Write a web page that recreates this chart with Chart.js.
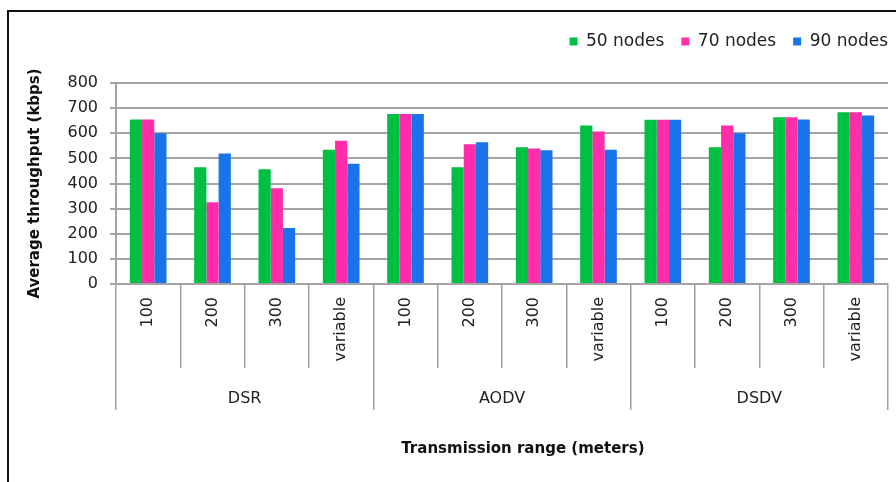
<!DOCTYPE html>
<html>
<head>
<meta charset="utf-8">
<script src="https://cdn.jsdelivr.net/npm/chart.js@4"></script>
<style>
  html, body { margin: 0; padding: 0; background: #fff; }
  #wrap { position: relative; width: 896px; height: 482px; overflow: hidden; }
  #frame { position: absolute; left: 7px; top: 10px; right: -10px; bottom: -10px; border: 2px solid #111; pointer-events: none; }
</style>
</head>
<body>
<div id="wrap">
  <canvas id="chart" width="896" height="482"></canvas>
  <div id="frame"></div>
</div>
<script>
// chart data
const ranges = ['100', '200', '300', 'variable', '100', '200', '300', 'variable', '100', '200', '300', 'variable'];
const protocols = ['DSR', 'AODV', 'DSDV'];
const nodes50 = [655, 465, 457, 534, 677, 465, 544, 631, 654, 544, 664, 684];
const nodes70 = [655, 325, 381, 570, 677, 556, 539, 607, 654, 631, 664, 684];
const nodes90 = [600, 519, 223, 479, 677, 564, 532, 534, 654, 600, 655, 671];
const yTicks = [0, 100, 200, 300, 400, 500, 600, 700, 800];

const font = 'DejaVu Sans';
const gridColor = '#a4a4a4';

// push the plot area down below the legend, and the legend flush right
const legendGap = {
  id: 'legendGap',
  beforeInit(chart) {
    const fit = chart.legend.fit;
    chart.legend.fit = function () {
      fit.bind(chart.legend)();
      this.height += 23;
    };
  },
  afterLayout(chart) {
    chart.legend.left += 17;
    chart.legend.right += 17;
  }
};

new Chart(document.getElementById('chart').getContext('2d'), {
  type: 'bar',
  data: {
    labels: ranges,
    datasets: [
      { label: '50 nodes', data: nodes50, backgroundColor: '#00c043' },
      { label: '70 nodes', data: nodes70, backgroundColor: '#ff2daa' },
      { label: '90 nodes', data: nodes90, backgroundColor: '#1874e8' },
    ],
  },
  options: {
    responsive: false,
    animation: false,
    layout: { padding: { top: 16, left: 14, right: 8, bottom: 20 } },
    datasets: { bar: { categoryPercentage: 0.57, barPercentage: 1.0 } },
    plugins: {
      legend: {
        position: 'top',
        align: 'end',
        labels: {
          boxWidth: 8,
          boxHeight: 8,
          padding: 17,
          color: '#222',
          font: { family: font, size: 17 },
        },
      },
      tooltip: { enabled: false },
    },
    scales: {
      y: {
        min: 0,
        max: 800,
        afterBuildTicks: s => { s.ticks = yTicks.map(v => ({ value: v })); },
        afterFit: s => { s.width = 102; },
        grid: { color: gridColor, lineWidth: 2, tickLength: 6 },
        border: { color: gridColor, width: 2 },
        ticks: { color: '#222', padding: 12, font: { family: font, size: 16 } },
        title: {
          display: true,
          text: 'Average throughput (kbps)',
          color: '#111',
          padding: { top: 12 },
          font: { family: font, size: 15, weight: 'bold' },
        },
      },
      x: {
        afterFit: s => { s.height = 84; },
        grid: { offset: true, drawOnChartArea: false, tickLength: 84, color: '#a0a0a0', lineWidth: 1.5 },
        border: { color: gridColor, width: 2 },
        ticks: {
          autoSkip: false,
          minRotation: 90,
          maxRotation: 90,
          padding: -71,
          color: '#222',
          font: { family: font, size: 16 },
        },
      },
      x2: {
        type: 'category',
        position: 'bottom',
        labels: protocols,
        offset: true,
        afterFit: s => { s.height = 94; },
        grid: { offset: true, drawOnChartArea: false, tickLength: 42, color: '#a0a0a0', lineWidth: 1.5 },
        border: { display: false },
        ticks: { padding: -21, color: '#222', font: { family: font, size: 16 } },
        title: {
          display: true,
          text: '        Transmission range (meters)',
          color: '#111',
          padding: { top: 4, bottom: 4 },
          font: { family: font, size: 15, weight: 'bold' },
        },
      },
    },
  },
  plugins: [legendGap],
});
</script>
</body>
</html>
